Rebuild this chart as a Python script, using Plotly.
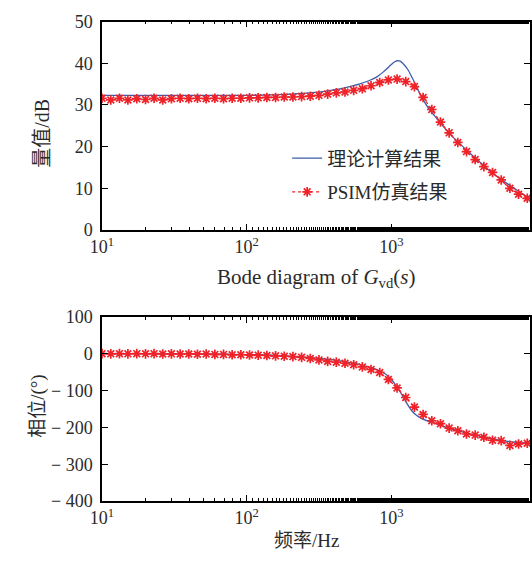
import plotly.graph_objects as go

# ---------------- data ----------------
# PSIM simulation sample frequencies (Hz)
psim_freq = [10.0, 11.5, 13.2, 15.1, 17.4, 20.0, 22.9, 26.3, 30.2, 34.7,
             39.8, 45.7, 52.5, 60.3, 69.2, 79.4, 91.2, 104.7, 120.2, 138.0,
             158.5, 182.0, 208.9, 239.9, 275.4, 316.2, 363.1, 416.9, 478.6, 549.5,
             631.0, 724.4, 831.8, 955.0, 1096.5, 1258.9, 1445.4, 1659.6, 1905.5, 2187.8,
             2511.9, 2884.0, 3311.3, 3801.9, 4365.2, 5011.9, 5754.4, 6606.9, 7585.8, 8709.6]
psim_mag = [31.6, 31.2, 31.6, 31.2, 31.5, 31.3, 31.6, 31.2, 31.5, 31.6,
            31.5, 31.6, 31.5, 31.6, 31.5, 31.6, 31.6, 31.7, 31.7, 31.8,
            31.8, 31.9, 31.9, 32.0, 32.1, 32.3, 32.6, 32.9, 33.1, 33.5,
            33.9, 34.6, 35.4, 36.0, 36.2, 35.6, 34.4, 31.8, 28.9, 25.9,
            23.3, 21.0, 18.8, 16.9, 15.2, 13.8, 12.0, 10.0, 8.6, 7.6]
psim_phase = [0, -0.5, 0, -0.5, 0, -0.5, 0, -1, -0.5, -1,
              -1, -1.5, -1, -2, -2, -3, -3, -3.5, -4, -5,
              -6, -7, -8, -10, -13, -17, -21, -23, -26, -30,
              -36, -43, -51, -70, -93, -119, -145, -165, -182, -190,
              -202, -209, -218, -221, -227, -235, -236, -249, -245, -243]

# theoretical curve
theory_mag_freq = [10, 20, 50, 100, 150, 200, 300, 400, 500, 600,
                   700, 800, 900, 1000, 1050, 1100, 1150, 1200, 1300, 1400,
                   1500, 1600, 1800, 2000, 2500, 3000, 3500, 4000, 4600, 5500,
                   6400, 7500, 9000]
theory_mag = [32.3, 32.3, 32.3, 32.3, 32.4, 32.6, 33.0, 33.6, 34.3, 35.0,
              35.8, 36.8, 38.2, 39.7, 40.3, 40.6, 40.5, 40.0, 38.5, 36.4,
              34.3, 32.3, 29.3, 27.3, 23.3, 20.6, 18.4, 16.6, 14.7, 12.6,
              11.0, 9.4, 7.6]
theory_phase_freq = [10, 30, 50, 100, 150, 200, 300, 400, 500, 600,
                     700, 800, 900, 950, 1000, 1050, 1100, 1200, 1300, 1400,
                     1500, 1600, 1800, 2000, 2500, 3000, 4000, 5000, 6400, 8000, 9000]
theory_phase = [0, -0.5, -1, -2.5, -4, -7, -12, -17, -23, -29,
                -36, -44, -54, -61, -70, -80, -92, -115, -139, -157,
                -168, -175, -183, -189, -202, -211, -223, -231, -238, -242, -244]

x_tickvals = [10, 100, 1000]
x_ticktext = ["10<sup>1</sup>", "10<sup>2</sup>", "10<sup>3</sup>"]
mag_ticks = [0, 10, 20, 30, 40, 50]
phase_ticks = [-400, -300, -200, -100, 0, 100]
phase_ticktext = ["\u2212 400", "\u2212 300", "\u2212 200", "\u2212 100", "0", "100"]

legend_names = ["理论计算结果", "PSIM仿真结果"]

# ---------------- style ----------------
W, H = 532, 568
L = 102
FONT = "Liberation Serif, Noto Sans CJK SC, serif"
TXT = "#2a2a2a"
BLUE = "#3d5caa"
RED = "#ee2228"


def py(p):
    return (H - p) / H


def px(p):
    return (p - L) / (W - L)


fig = go.Figure()

marker_style = dict(symbol="asterisk-open", size=8, line=dict(color=RED, width=1.7))

fig.add_trace(go.Scatter(x=theory_mag_freq, y=theory_mag, mode="lines",
                         line=dict(color=BLUE, width=1.3, shape="spline"),
                         name=legend_names[0], legendgroup="a",
                         xaxis="x", yaxis="y"))
fig.add_trace(go.Scatter(x=psim_freq, y=psim_mag, mode="lines+markers",
                         line=dict(color=RED, width=1.2, dash="dot"),
                         marker=marker_style,
                         name=legend_names[1], legendgroup="b",
                         xaxis="x", yaxis="y"))
fig.add_trace(go.Scatter(x=theory_phase_freq, y=theory_phase, mode="lines",
                         line=dict(color=BLUE, width=1.3, shape="spline"),
                         showlegend=False, xaxis="x2", yaxis="y2"))
fig.add_trace(go.Scatter(x=psim_freq, y=psim_phase, mode="lines+markers",
                         line=dict(color=RED, width=1.2, dash="dot"),
                         marker=marker_style,
                         showlegend=False, xaxis="x2", yaxis="y2"))

xcommon = dict(type="log", range=[1, 3.959], showline=True, linecolor="black",
               linewidth=1.5, mirror="allticks", ticks="inside", ticklen=6,
               tickcolor="black", tickwidth=1, tickvals=x_tickvals,
               ticktext=x_ticktext, showgrid=False, zeroline=False,
               tickfont=dict(family=FONT, size=18, color=TXT),
               minor=dict(ticks="inside", ticklen=3, tickcolor="black",
                          showgrid=False))
ycommon = dict(showline=True, linecolor="black", linewidth=1.5, mirror="allticks",
               ticks="inside", ticklen=6, tickcolor="black", tickwidth=1,
               showgrid=False, zeroline=False, ticklabelstandoff=4,
               tickfont=dict(family=FONT, size=18, color=TXT))

title_font = dict(family=FONT, size=19, color=TXT)

fig.update_layout(
    width=W, height=H,
    margin=dict(l=L, r=0, t=0, b=0),
    paper_bgcolor="white", plot_bgcolor="white",
    xaxis=dict(**xcommon, domain=[0, 1], anchor="y"),
    yaxis=dict(**ycommon, range=[0, 50], tickvals=mag_ticks,
               domain=[py(228), py(12)], anchor="x"),
    xaxis2=dict(**xcommon, domain=[0, 1], anchor="y2"),
    yaxis2=dict(**ycommon, range=[-400, 100], tickvals=phase_ticks,
                ticktext=phase_ticktext,
                domain=[py(509), py(318)], anchor="x2"),
    showlegend=True,
    legend=dict(x=px(288), y=py(134), xanchor="left", yanchor="top",
                bgcolor="rgba(0,0,0,0)", borderwidth=0, tracegroupgap=6,
                font=dict(family=FONT, size=19, color=TXT)),
    annotations=[
        dict(text="量值/dB", x=px(42), y=py(128), xref="paper", yref="paper",
             xanchor="center", yanchor="middle",
             showarrow=False, textangle=-90,
             font=dict(family=FONT, size=20, color=TXT)),
        dict(text="相位/(°)", x=px(37), y=py(410), xref="paper", yref="paper",
             xanchor="center", yanchor="middle",
             showarrow=False, textangle=-90, font=title_font),
        dict(text="Bode diagram of <i>G</i><sub>vd</sub>(<i>s</i>)",
             x=px(317), y=py(278), xref="paper", yref="paper",
             xanchor="center", yanchor="middle",
             showarrow=False, font=dict(family=FONT, size=21, color=TXT)),
        dict(text="频率/Hz", x=px(307), y=py(550), xref="paper", yref="paper",
             xanchor="center", yanchor="middle",
             showarrow=False, font=title_font),
    ],
)

fig.write_html("out.html")
